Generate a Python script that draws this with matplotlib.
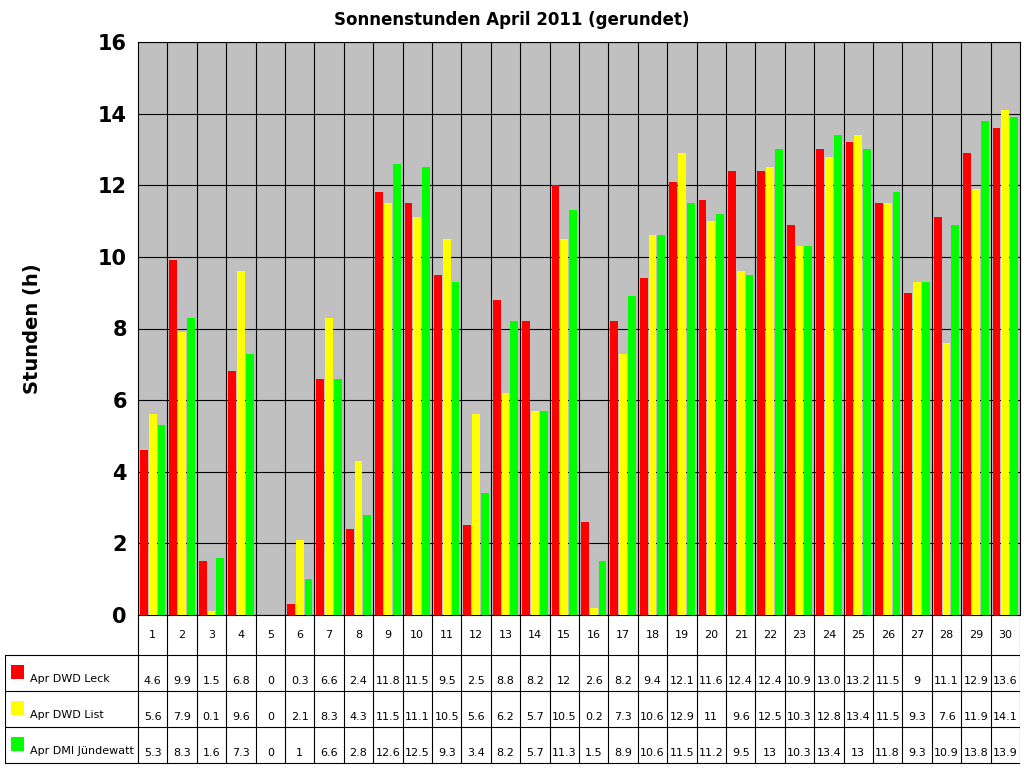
import matplotlib.pyplot as plt
import numpy as np

days = [str(d) for d in range(1, 31)]
leck = [4.6, 9.9, 1.5, 6.8, 0, 0.3, 6.6, 2.4, 11.8, 11.5, 9.5, 2.5, 8.8, 8.2, 12, 2.6, 8.2, 9.4,
        12.1, 11.6, 12.4, 12.4, 10.9, 13.0, 13.2, 11.5, 9, 11.1, 12.9, 13.6]
leck_lbl = ['4.6', '9.9', '1.5', '6.8', '0', '0.3', '6.6', '2.4', '11.8', '11.5', '9.5', '2.5', '8.8', '8.2',
            '12', '2.6', '8.2', '9.4', '12.1', '11.6', '12.4', '12.4', '10.9', '13.0', '13.2', '11.5', '9',
            '11.1', '12.9', '13.6']
lst = [5.6, 7.9, 0.1, 9.6, 0, 2.1, 8.3, 4.3, 11.5, 11.1, 10.5, 5.6, 6.2, 5.7, 10.5, 0.2, 7.3, 10.6,
       12.9, 11, 9.6, 12.5, 10.3, 12.8, 13.4, 11.5, 9.3, 7.6, 11.9, 14.1]
lst_lbl = ['5.6', '7.9', '0.1', '9.6', '0', '2.1', '8.3', '4.3', '11.5', '11.1', '10.5', '5.6', '6.2', '5.7',
           '10.5', '0.2', '7.3', '10.6', '12.9', '11', '9.6', '12.5', '10.3', '12.8', '13.4', '11.5', '9.3',
           '7.6', '11.9', '14.1']
dmi = [5.3, 8.3, 1.6, 7.3, 0, 1, 6.6, 2.8, 12.6, 12.5, 9.3, 3.4, 8.2, 5.7, 11.3, 1.5, 8.9, 10.6,
       11.5, 11.2, 9.5, 13, 10.3, 13.4, 13, 11.8, 9.3, 10.9, 13.8, 13.9]
dmi_lbl = ['5.3', '8.3', '1.6', '7.3', '0', '1', '6.6', '2.8', '12.6', '12.5', '9.3', '3.4', '8.2', '5.7',
           '11.3', '1.5', '8.9', '10.6', '11.5', '11.2', '9.5', '13', '10.3', '13.4', '13', '11.8', '9.3',
           '10.9', '13.8', '13.9']
names = ['Apr DWD Leck', 'Apr DWD List', 'Apr DMI Jündewatt']
colors = ['#FF0000', '#FFFF00', '#00FF00']

W, H = 1024, 768
fig = plt.figure(figsize=(10.24, 7.68), dpi=100)
x0, x1, y0, y1 = 138, 1020, 42, 615
ax = fig.add_axes([x0 / W, 1 - y1 / H, (x1 - x0) / W, (y1 - y0) / H])
ax.set_facecolor('#C0C0C0')
x = np.arange(30)
for off, vals, c in zip([-0.3, 0, 0.3], [leck, lst, dmi], colors):
    ax.bar(x + off, vals, width=0.26, color=c, zorder=3)
ax.set_xlim(-0.5, 29.5)
ax.set_ylim(0, 16)
ax.set_yticks(range(0, 17, 2))
ax.set_yticklabels([str(v) for v in range(0, 17, 2)], fontsize=15, fontweight='bold')
ax.set_xticks([])
ax.yaxis.grid(True, color='black', lw=0.8, zorder=1)
for b in np.arange(0.5, 29.5, 1):
    ax.axvline(b, color='black', lw=0.8, zorder=1)
for s in ax.spines.values():
    s.set_color('black')
ax.tick_params(axis='y', length=0, pad=8)
ax.set_ylabel('Stunden (h)', fontsize=14, fontweight='bold', labelpad=40)
fig.text(0.5, 1 - 20 / H, 'Sonnenstunden April 2011 (gerundet)', ha='center', va='center',
         fontsize=12, fontweight='bold')

# table area
cw = (x1 - x0) / 30
tleft = -0.5 - (x0 - 5) / cw
tb = fig.add_axes([5 / W, 3 / H, (x1 - 5) / W, (765 - 615) / H])
tb.set_xlim(tleft, 29.5)
tb.set_ylim(0, 150)
tb.axis('off')
rows_y = [150, 110, 74, 38, 2]
for xb in np.arange(-0.5, 29.6, 1):
    tb.plot([xb, xb], [2, 150], color='black', lw=0.8)
tb.plot([tleft, tleft], [2, 110], color='black', lw=0.8)
for yy in rows_y[1:]:
    tb.plot([tleft, 29.5], [yy, yy], color='black', lw=0.8)
for i, d in enumerate(days):
    tb.text(i, 130, d, ha='center', va='center', fontsize=8)
for r, (lbls, nm, c) in enumerate(zip([leck_lbl, lst_lbl, dmi_lbl], names, colors)):
    yc = (rows_y[r + 1] + rows_y[r + 2]) / 2
    for i, v in enumerate(lbls):
        tb.text(i, yc - 8, v, ha='center', va='center', fontsize=8)
    tb.add_patch(plt.Rectangle((tleft + 0.2, yc - 6), 0.45, 14, color=c, lw=0))
    tb.text(tleft + 0.85, yc - 6, nm, ha='left', va='center', fontsize=8)

fig.savefig('out.png', dpi=100)
